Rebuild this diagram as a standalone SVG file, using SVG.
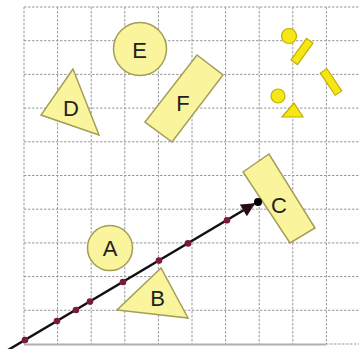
<svg xmlns="http://www.w3.org/2000/svg" width="359" height="349" viewBox="0 0 359 349">
<defs>
<style>
.grid line{stroke:#999;stroke-width:1;stroke-dasharray:2.5 1.5}
.shape{fill:#faf59c;stroke:#a39d58;stroke-width:1.5}
.small{fill:#f5e617;stroke:#c2b000;stroke-width:1.2}
.lbl{font-family:"Liberation Sans",Arial,sans-serif;font-size:22px;fill:#222;text-anchor:middle}
.dot{fill:#7a1a38}
</style>
<marker id="ah" viewBox="0 0 10 10" refX="9" refY="5" markerWidth="6" markerHeight="5.5" orient="auto" markerUnits="strokeWidth">
<path d="M0,0 L10,5 L0,10 z" fill="#2a0a16"/>
</marker>
</defs>
<rect width="359" height="349" fill="#fff"/>
<g class="grid">
<line x1="24" y1="7" x2="24" y2="344"/>
<line x1="57.6" y1="7" x2="57.6" y2="344"/>
<line x1="91.2" y1="7" x2="91.2" y2="344"/>
<line x1="124.8" y1="7" x2="124.8" y2="344"/>
<line x1="158.4" y1="7" x2="158.4" y2="344"/>
<line x1="192" y1="7" x2="192" y2="344"/>
<line x1="225.6" y1="7" x2="225.6" y2="344"/>
<line x1="259.2" y1="7" x2="259.2" y2="344"/>
<line x1="292.8" y1="7" x2="292.8" y2="344"/>
<line x1="326.4" y1="7" x2="326.4" y2="344"/>
<line x1="24" y1="7" x2="359" y2="7"/>
<line x1="24" y1="40.7" x2="359" y2="40.7"/>
<line x1="24" y1="74.4" x2="359" y2="74.4"/>
<line x1="24" y1="108.1" x2="359" y2="108.1"/>
<line x1="24" y1="141.8" x2="359" y2="141.8"/>
<line x1="24" y1="175.5" x2="359" y2="175.5"/>
<line x1="24" y1="209.2" x2="359" y2="209.2"/>
<line x1="24" y1="242.9" x2="359" y2="242.9"/>
<line x1="24" y1="276.6" x2="359" y2="276.6"/>
<line x1="24" y1="310.3" x2="359" y2="310.3"/>
<line x1="326" y1="344" x2="359" y2="344"/>
</g>
<line x1="24" y1="344.5" x2="326" y2="344.5" stroke="#b0b0b0" stroke-width="2"/>
<g id="E"><circle class="shape" cx="140" cy="49" r="26.5"/><text class="lbl" x="139.5" y="58">E</text></g>
<g id="D"><polygon class="shape" points="73,69 41,115 99,135"/><text class="lbl" x="71" y="116">D</text></g>
<g id="F"><polygon class="shape" points="197,55 223,75 172,142 145,122"/><text class="lbl" x="183" y="111">F</text></g>
<g id="C"><polygon class="shape" points="243,172 269,154 315,228 290,243"/><text class="lbl" x="279" y="213">C</text></g>
<g id="A"><circle class="shape" cx="110" cy="248" r="22.5"/><text class="lbl" x="110" y="256">A</text></g>
<g id="B"><polygon class="shape" points="161,268 117,310 188,318"/><text class="lbl" x="157.5" y="306">B</text></g>
<g id="small-shapes">
<circle class="small" cx="289" cy="36" r="7.5"/>
<rect class="small" x="288.75" y="47.5" width="26.5" height="8" transform="rotate(-54 302 51.5)"/>
<rect class="small" x="317.7" y="78" width="26.6" height="8" transform="rotate(56 331 82)"/>
<circle class="small" cx="278" cy="96" r="7"/>
<polygon class="small" points="294,103 282,117 303,117"/>
</g>
<g id="connectors">
<line x1="8" y1="350" x2="254" y2="204" stroke="#111" stroke-width="2.5" marker-end="url(#ah)"/>
<circle class="dot" cx="25" cy="340" r="3.3"/>
<circle class="dot" cx="57" cy="321" r="3.3"/>
<circle class="dot" cx="76" cy="310" r="3.3"/>
<circle class="dot" cx="90" cy="301.6" r="3.3"/>
<circle class="dot" cx="123" cy="282" r="3.3"/>
<circle class="dot" cx="159" cy="260.6" r="3.3"/>
<circle class="dot" cx="188" cy="243.4" r="3.3"/>
<circle class="dot" cx="227" cy="220.3" r="3.3"/>
<circle cx="258" cy="202" r="4" fill="#000"/>
</g>
</svg>
